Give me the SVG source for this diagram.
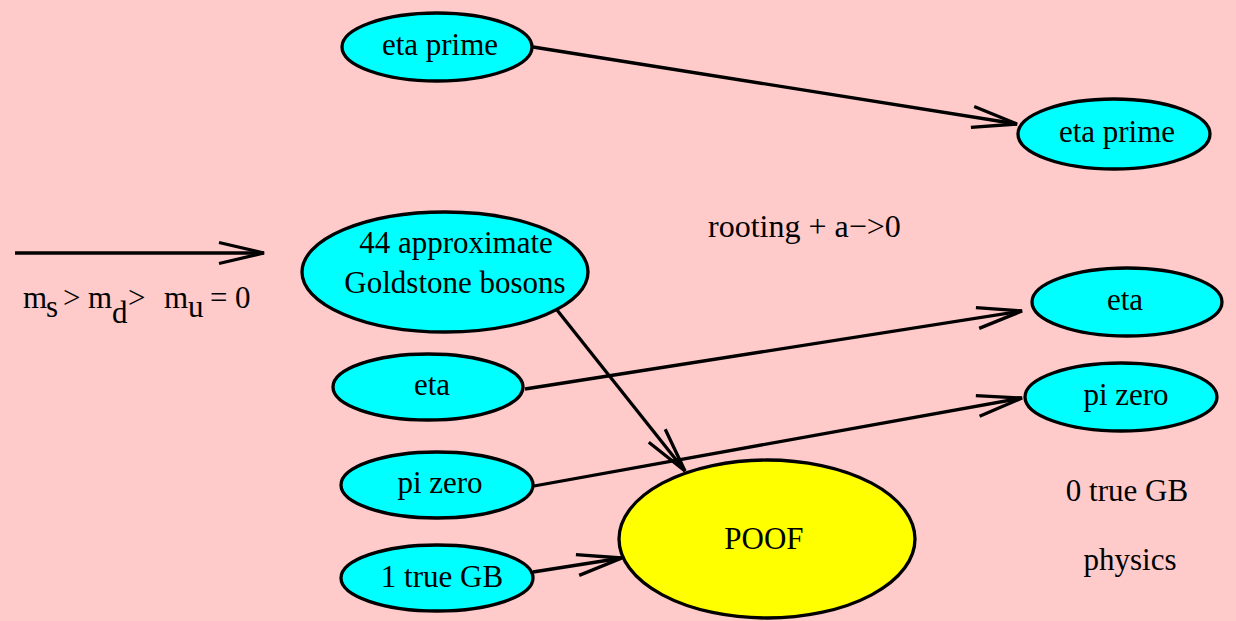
<svg xmlns="http://www.w3.org/2000/svg" width="1236" height="621" viewBox="0 0 1236 621">
  <style>
    .node ellipse { stroke: #000; stroke-width: 3.3; }
    .cyan { fill: #00ffff; }
    .yellow { fill: #ffff00; }
    .lbl { text-anchor: middle; }
    .edge { stroke: #000; stroke-width: 3.3; fill: none; marker-end: url(#chevron); }
  </style>
  <defs>
    <marker id="chevron" markerUnits="userSpaceOnUse" markerWidth="60" markerHeight="40" viewBox="-50 -20 60 40" refX="0" refY="0" orient="auto">
      <path d="M-45,-10.5 L0,0 L-45,10.5" fill="none" stroke="#000" stroke-width="3.3"/>
    </marker>
  </defs>

  <rect x="0" y="0" width="1236" height="621" fill="#ffcaca"/>

  <!-- connectors -->
  <g id="connectors">
    <line class="edge" x1="15" y1="253" x2="264" y2="253"/>
    <line class="edge" x1="533" y1="47" x2="1017" y2="124"/>
    <line class="edge" x1="525" y1="389" x2="1022" y2="311"/>
    <line class="edge" x1="534" y1="486" x2="1022" y2="398"/>
    <line class="edge" x1="557" y1="310" x2="685" y2="471"/>
    <line class="edge" x1="533" y1="572" x2="622" y2="558"/>
  </g>

  <g font-family="'Liberation Serif', 'DejaVu Serif', serif" font-size="31" fill="#000">
    <!-- nodes -->
    <g id="etaprime_src" class="node">
      <ellipse class="cyan" cx="437" cy="47" rx="95" ry="34"/>
      <text class="lbl" x="440" y="55">eta prime</text>
    </g>
    <g id="etaprime_dst" class="node">
      <ellipse class="cyan" cx="1114" cy="134" rx="96" ry="35"/>
      <text class="lbl" x="1117" y="142">eta prime</text>
    </g>
    <g id="goldstone" class="node">
      <ellipse class="cyan" cx="445" cy="272" rx="143" ry="60"/>
      <text class="lbl" x="456" y="253">44 approximate</text>
      <text class="lbl" x="455" y="293">Goldstone bosons</text>
    </g>
    <g id="eta_dst" class="node">
      <ellipse class="cyan" cx="1127" cy="302" rx="95" ry="34"/>
      <text class="lbl" x="1125" y="310">eta</text>
    </g>
    <g id="eta_src" class="node">
      <ellipse class="cyan" cx="428" cy="387" rx="95" ry="33"/>
      <text class="lbl" x="432" y="395">eta</text>
    </g>
    <g id="pizero_dst" class="node">
      <ellipse class="cyan" cx="1121" cy="397" rx="96" ry="34"/>
      <text class="lbl" x="1126" y="405">pi zero</text>
    </g>
    <g id="pizero_src" class="node">
      <ellipse class="cyan" cx="437" cy="485" rx="96" ry="33"/>
      <text class="lbl" x="440" y="493">pi zero</text>
    </g>
    <g id="truegb" class="node">
      <ellipse class="cyan" cx="437" cy="578" rx="96" ry="33"/>
      <text class="lbl" x="442" y="587">1 true GB</text>
    </g>
    <g id="poof" class="node">
      <ellipse class="yellow" cx="767" cy="539" rx="148" ry="79"/>
      <text class="lbl" x="764" y="549">POOF</text>
    </g>

    <!-- free labels -->
    <g id="mass_label">
      <text y="308" font-size="31"><tspan x="23">m</tspan><tspan x="46" y="317">s</tspan><tspan x="63" y="308">&gt;</tspan><tspan x="88">m</tspan><tspan x="112" y="323">d</tspan><tspan x="128" y="308">&gt;</tspan><tspan x="164">m</tspan><tspan x="188" y="317">u</tspan><tspan x="210" y="308">=</tspan><tspan x="235">0</tspan></text>
    </g>
    <g id="rooting_label">
      <text x="708" y="237" font-size="32">rooting + a−&gt;0</text>
    </g>
    <g id="zero_gb_label">
      <text class="lbl" x="1127" y="501">0 true GB</text>
    </g>
    <g id="physics_label">
      <text class="lbl" x="1130" y="570">physics</text>
    </g>
  </g>
</svg>
